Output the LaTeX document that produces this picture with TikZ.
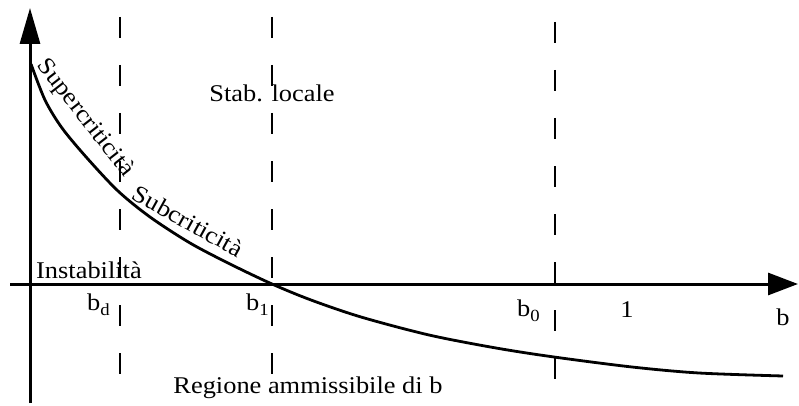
\documentclass[tikz,border=0pt]{standalone}
\usepackage{fontspec}
\setmainfont{Liberation Serif}[FakeStretch=1.1]
\usetikzlibrary{arrows.meta}
\newcommand{\sbx}[1]{\raisebox{-5pt}{\fontsize{17}{17}\selectfont #1}}
\begin{document}
\begin{tikzpicture}[x=1pt,y=-1pt,
  axis/.style={line width=3pt},
  dashline/.style={line width=2.4pt, dash pattern=on 21pt off 27pt},
  curveline/.style={line width=2.8pt},
  lbl/.style={font=\fontsize{24}{24}\selectfont, inner sep=0pt}]
\useasboundingbox[fill=white] (0,0) rectangle (799,406);
% axes
\coordinate (ybot) at (30,403);
\coordinate (ytop) at (30,8);
\coordinate (xleft) at (10,284);
\coordinate (xright) at (798,284);
\draw[axis,-{Triangle[length=36pt,width=20pt]}] (ybot) -- (ytop);
\draw[axis,-{Triangle[length=30pt,width=22pt]}] (xleft) -- (xright);
% dashed lines
\coordinate (d1t) at (120,17); \coordinate (d1b) at (120,375);
\coordinate (d2t) at (272,17); \coordinate (d2b) at (272,375);
\coordinate (d3t) at (555,22); \coordinate (d3b) at (555,380);
\draw[dashline] (d1t) -- (d1b);
\draw[dashline] (d2t) -- (d2b);
\draw[dashline] (d3t) -- (d3b);
% curve
\draw[curveline] plot[smooth] coordinates {(31,64) (45,100) (62,128) (87,158) (118,191) (150,217) (190,243) (230,264) (272,284) (311,300) (361,317) (429,335) (496,348) (554,357) (632,367) (699,373) (783,376)};
% labels
\node[lbl, rotate=-52] (super) at (85,118) {Supercriticità};
\node[lbl, rotate=-29] (sub) at (188,221) {Subcriticità};
\node[lbl, anchor=base west] (instab) at (36,278) {Instabilità};
\node[lbl, anchor=base] (stab) at (272,102) {Stab. locale};
\node[lbl, anchor=base] (reg) at (308,393) {Regione ammissibile di b};
\node[lbl, anchor=base west] (bd) at (87,310) {b\sbx{d}};
\node[lbl, anchor=base west] (b1) at (246,310) {b\sbx{1}};
\node[lbl, anchor=base west] (b0) at (517,316) {b\sbx{0}};
\node[lbl, anchor=base] (one) at (627,317) {1};
\node[lbl, anchor=base] (bb) at (783,325) {b};
\end{tikzpicture}
\end{document}
